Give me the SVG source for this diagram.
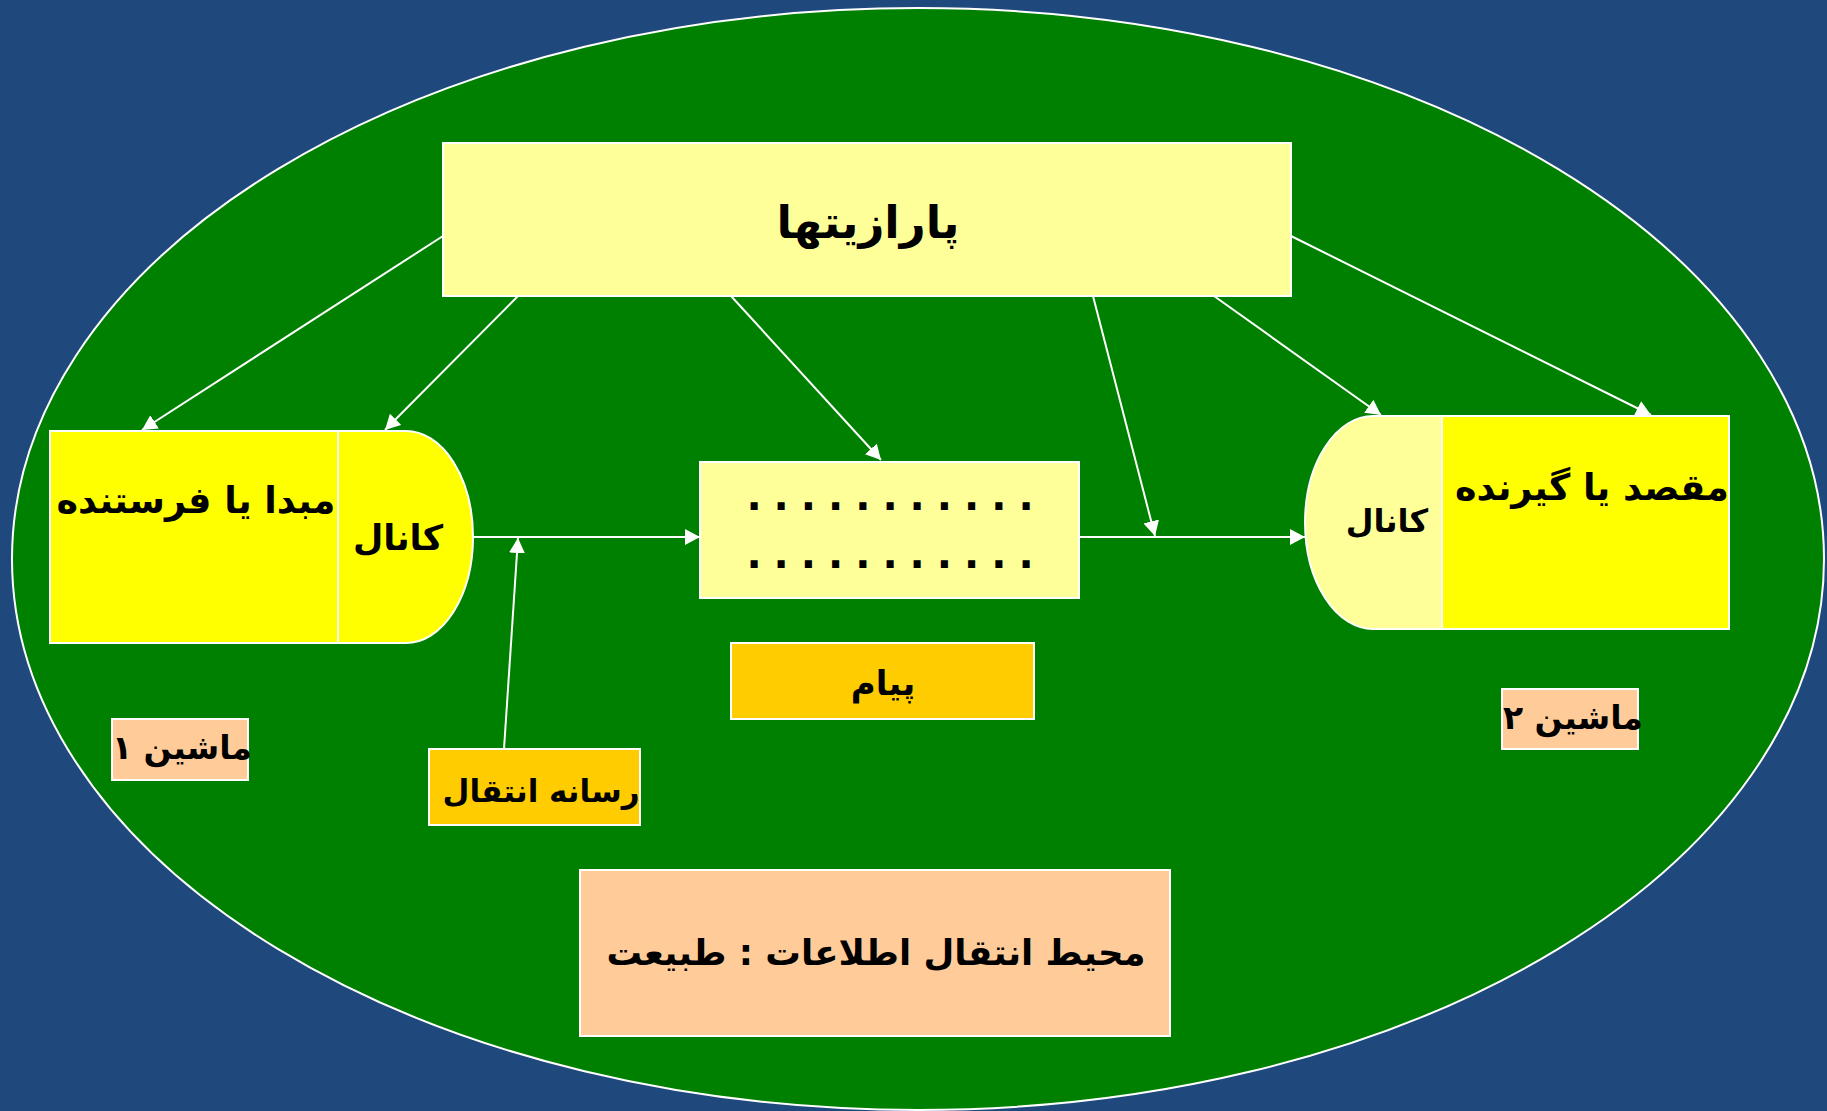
<svg xmlns="http://www.w3.org/2000/svg" width="1827" height="1111" viewBox="0 0 1827 1111">
<defs>
<marker id="ah" markerUnits="userSpaceOnUse" markerWidth="16" markerHeight="16" refX="15" refY="8" orient="auto">
<path d="M0,0 L15,8 L0,16 Z" fill="#ffffff"/>
</marker>
<style>
.box{stroke:#ffffff;stroke-width:2}
.t{font-family:"DejaVu Sans",sans-serif;font-weight:bold;fill:#000000;text-anchor:middle;direction:rtl}
.c{stroke:#ffffff;stroke-width:2;fill:none;marker-end:url(#ah)}
</style>
</defs>
<rect width="1827" height="1111" fill="#1F497D"/>
<ellipse cx="918" cy="559" rx="906" ry="551" fill="#008000" stroke="#ffffff" stroke-width="2"/>

<g id="connectors">
<line class="c" x1="443" y1="236" x2="142" y2="430"/>
<line class="c" x1="518" y1="296" x2="385" y2="430"/>
<line class="c" x1="731" y1="296" x2="881" y2="460"/>
<line class="c" x1="1093" y1="296" x2="1155" y2="536"/>
<line class="c" x1="1214" y1="296" x2="1381" y2="415"/>
<line class="c" x1="1291" y1="236" x2="1651" y2="415"/>
<line class="c" x1="474" y1="537" x2="700" y2="537"/>
<line class="c" x1="1079" y1="537" x2="1305" y2="537"/>
<line class="c" x1="504" y1="749" x2="518" y2="538"/>
</g>

<g id="parasites">
<rect class="box" x="443" y="143" width="848" height="153" fill="#FFFF99"/>
<text class="t" x="868" y="238" font-size="45">پارازیتها</text>
</g>

<g id="source">
<rect class="box" x="50" y="431" width="288" height="212" fill="#FFFF00"/>
<text class="t" x="196" y="513" font-size="36.5">مبدا یا فرستنده</text>
</g>

<g id="channel1">
<path class="box" d="M338,431 H406 A67,106 0 0 1 406,643 H338 Z" fill="#FFFF00"/>
<text class="t" x="398" y="550" font-size="35">کانال</text>
</g>

<g id="message">
<rect class="box" x="700" y="462" width="379" height="136" fill="#FFFF99"/>
<text class="t" x="896" y="510" font-size="40" letter-spacing="12">...........</text>
<text class="t" x="896" y="568" font-size="40" letter-spacing="12">...........</text>
</g>

<g id="message-label">
<rect class="box" x="731" y="643" width="303" height="76" fill="#FFCC00"/>
<text class="t" x="883" y="695" font-size="34">پیام</text>
</g>

<g id="channel2">
<path class="box" d="M1442,416 H1373 A68,106.5 0 0 0 1373,629 H1442 Z" fill="#FFFF99"/>
<text class="t" x="1387" y="532" font-size="32">کانال</text>
</g>

<g id="destination">
<rect class="box" x="1442" y="416" width="287" height="213" fill="#FFFF00"/>
<text class="t" x="1592" y="500" font-size="36.5">مقصد یا گیرنده</text>
</g>

<g id="machine1">
<rect class="box" x="112" y="719" width="136" height="61" fill="#FFCC99"/>
<text class="t" x="182" y="759" font-size="33">ماشین ۱</text>
</g>

<g id="machine2">
<rect class="box" x="1502" y="689" width="136" height="60" fill="#FFCC99"/>
<text class="t" x="1573" y="729" font-size="33">ماشین ۲</text>
</g>

<g id="medium">
<rect class="box" x="429" y="749" width="211" height="76" fill="#FFCC00"/>
<text class="t" x="541" y="802" font-size="31">رسانه انتقال</text>
</g>

<g id="environment">
<rect class="box" x="580" y="870" width="590" height="166" fill="#FFCC99"/>
<text class="t" x="876" y="965" font-size="35.5">محیط انتقال اطلاعات : طبیعت</text>
</g>
</svg>
